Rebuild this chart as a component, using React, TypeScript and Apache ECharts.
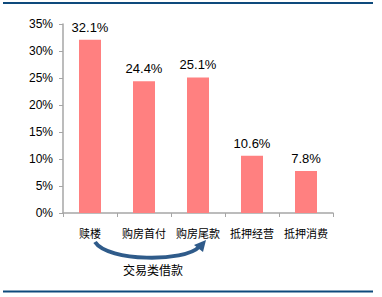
import React, { useEffect, useRef } from "react";
import * as echarts from "echarts";

const categories = ["赎楼", "购房首付", "购房尾款", "抵押经营", "抵押消费"];
const values = [32.1, 24.4, 25.1, 10.6, 7.8];
const yTicks = { min: 0, max: 35, interval: 5 };
const groupLabel = "交易类借款";

export default function App() {
  const ref = useRef<HTMLDivElement>(null);
  useEffect(() => {
    document.body.style.margin = "0";
    const chart = echarts.init(ref.current!, undefined, { renderer: "svg" });
    chart.setOption({
      animation: false,
      backgroundColor: "#ffffff",
      grid: { left: 63, top: 24, width: 270, height: 189 },
      xAxis: {
        type: "category",
        data: categories,
        axisLine: { lineStyle: { color: "#a6a6a6", width: 1.5 } },
        axisTick: { show: true, length: 4, lineStyle: { color: "#a6a6a6" } },
        axisLabel: {
          interval: 0,
          hideOverlap: false,
          margin: 14,
          fontSize: 11,
          color: "#000",
          fontFamily: "Noto Sans CJK SC",
        },
      },
      yAxis: {
        type: "value",
        min: yTicks.min,
        max: yTicks.max,
        interval: yTicks.interval,
        axisLine: { show: true, lineStyle: { color: "#a6a6a6", width: 1.5 } },
        axisTick: { show: true, length: 4, lineStyle: { color: "#a6a6a6" } },
        splitLine: { show: false },
        axisLabel: {
          formatter: "{value}%",
          margin: 10,
          fontSize: 12,
          color: "#000",
          fontFamily: "Liberation Sans",
        },
      },
      series: [
        {
          type: "bar",
          data: values,
          barWidth: 22,
          itemStyle: { color: "#ff8080" },
          label: {
            show: true,
            position: "top",
            distance: 6,
            formatter: (p: any) => p.value + "%",
            fontSize: 13,
            color: "#000",
            fontFamily: "Liberation Sans",
          },
        },
      ],
      graphic: [
        {
          type: "rect",
          shape: { x: 3, y: 2, width: 370, height: 2 },
          style: { fill: "#0e4a7c" },
        },
        {
          type: "rect",
          shape: { x: 3, y: 290.5, width: 370, height: 2 },
          style: { fill: "#0e4a7c" },
        },
        {
          type: "bezierCurve",
          shape: {
            x1: 95, y1: 242,
            cpx1: 108, cpy1: 262,
            cpx2: 185, cpy2: 262,
            x2: 199, y2: 247,
          },
          style: { stroke: "#2f5b8a", lineWidth: 4, fill: "none" },
        },
        {
          type: "polygon",
          shape: { points: [[194, 245], [206, 240], [203, 252]] },
          style: { fill: "#2f5b8a" },
        },
        {
          type: "text",
          x: 153,
          y: 269,
          style: {
            text: groupLabel,
            fontSize: 12,
            fill: "#000",
            fontFamily: "Noto Sans CJK SC",
            align: "center",
            verticalAlign: "middle",
          },
        },
      ],
    });
    return () => chart.dispose();
  }, []);
  return <div ref={ref} style={{ width: 382, height: 297 }} />;
}
